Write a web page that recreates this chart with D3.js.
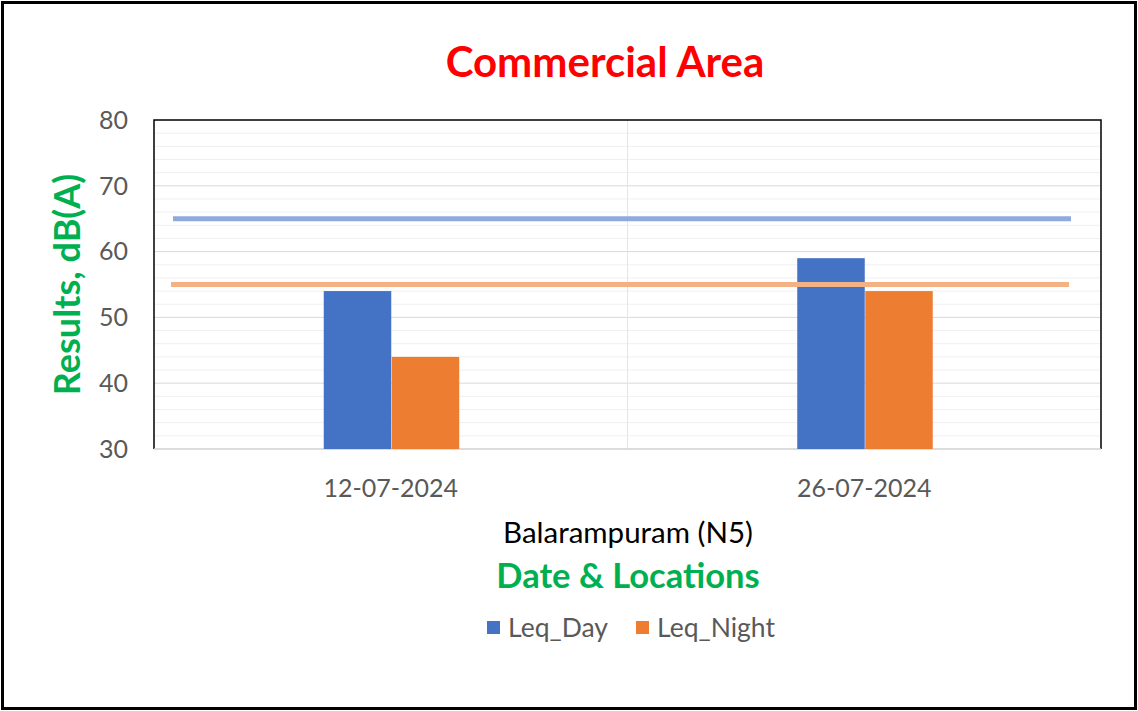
<!DOCTYPE html>
<html>
<head>
<meta charset="utf-8">
<script src="https://cdn.jsdelivr.net/npm/d3@7"></script>
<style>
  body { margin: 0; background: #fff; }
  svg { display: block; }
</style>
</head>
<body>
<script>
// data
var categories = ["12-07-2024", "26-07-2024"];
var leqDay = [54, 59];
var leqNight = [44, 54];
var limitDay = 65;
var limitNight = 55;
var seriesNames = ["Leq_Day", "Leq_Night"];
var yTicks = [30, 40, 50, 60, 70, 80];

var width = 1138, height = 711;
var plot = { left: 154, right: 1101, top: 120, bottom: 449 };
var colors = ["#4472C4", "#ED7D31"];
var lineColors = ["#8FAADC", "#F4B183"];
var font = "Lato, 'Open Sans', sans-serif";

var svg = d3.select("body").append("svg")
  .attr("width", width)
  .attr("height", height);

svg.append("rect")
  .attr("width", width).attr("height", height)
  .attr("fill", "#fff");

// outer frame
svg.append("rect")
  .attr("x", 2.5).attr("y", 2.5)
  .attr("width", width - 5).attr("height", height - 5)
  .attr("fill", "none")
  .attr("stroke", "#000")
  .attr("stroke-width", 3);

var x = d3.scaleBand()
  .domain(categories)
  .range([plot.left, plot.right]);

var xInner = d3.scaleBand()
  .domain(seriesNames)
  .range([0, 136])
  .padding(0);

var y = d3.scaleLinear()
  .domain([30, 80])
  .range([plot.bottom, plot.top]);

// minor gridlines
svg.append("g")
  .selectAll("line")
  .data(d3.range(32, 80, 2).filter(function (v) { return v % 10 !== 0; }))
  .enter().append("line")
  .attr("x1", plot.left).attr("x2", plot.right)
  .attr("y1", function (d) { return y(d); })
  .attr("y2", function (d) { return y(d); })
  .attr("stroke", "#f0f0f0")
  .attr("stroke-width", 1);

// major gridlines
svg.append("g")
  .selectAll("line")
  .data(yTicks.slice(1, -1))
  .enter().append("line")
  .attr("x1", plot.left).attr("x2", plot.right)
  .attr("y1", function (d) { return y(d); })
  .attr("y2", function (d) { return y(d); })
  .attr("stroke", "#d9d9d9")
  .attr("stroke-width", 1);

// vertical category divider
svg.append("line")
  .attr("x1", x(categories[1])).attr("x2", x(categories[1]))
  .attr("y1", plot.top).attr("y2", plot.bottom)
  .attr("stroke", "#e6e6e6");

// frame of plot: left, top, right black; bottom grey
svg.append("path")
  .attr("d", "M" + plot.left + "," + plot.bottom + "V" + plot.top + "H" + plot.right + "V" + plot.bottom)
  .attr("fill", "none")
  .attr("stroke", "#000")
  .attr("stroke-width", 1.5);
svg.append("line")
  .attr("x1", plot.left).attr("x2", plot.right)
  .attr("y1", plot.bottom).attr("y2", plot.bottom)
  .attr("stroke", "#d0d0d0")
  .attr("stroke-width", 1.5);

// bars
var rows = categories.map(function (c, i) {
  return { cat: c, values: [leqDay[i], leqNight[i]] };
});

var groups = svg.selectAll("g.cat")
  .data(rows)
  .enter().append("g")
  .attr("class", "cat")
  .attr("transform", function (d) {
    return "translate(" + (x(d.cat) + x.bandwidth() / 2 - 67) + ",0)";
  });

groups.selectAll("rect")
  .data(function (d) { return d.values.map(function (v, j) { return { key: seriesNames[j], value: v, j: j }; }); })
  .enter().append("rect")
  .attr("x", function (d) { return xInner(d.key); })
  .attr("width", xInner.bandwidth() - 0.5)
  .attr("y", function (d) { return y(d.value); })
  .attr("height", function (d) { return y(30) - y(d.value); })
  .attr("fill", function (d) { return colors[d.j]; });

// limit lines
var limits = [limitDay, limitNight];
svg.append("g")
  .selectAll("line")
  .data(limits)
  .enter().append("line")
  .attr("x1", function (d, i) { return plot.left + (i === 0 ? 19 : 17); })
  .attr("x2", function (d, i) { return plot.right - (i === 0 ? 30 : 32); })
  .attr("y1", function (d) { return y(d); })
  .attr("y2", function (d) { return y(d); })
  .attr("stroke", function (d, i) { return lineColors[i]; })
  .attr("stroke-width", 5);

// y axis labels
svg.append("g")
  .selectAll("text")
  .data(yTicks)
  .enter().append("text")
  .attr("x", 128)
  .attr("y", function (d) { return y(d); })
  .attr("dy", "0.35em")
  .attr("text-anchor", "end")
  .attr("font-family", font)
  .attr("font-size", 25)
  .attr("fill", "#595959")
  .text(function (d) { return d; });

// x axis labels
svg.append("g")
  .selectAll("text")
  .data(categories)
  .enter().append("text")
  .attr("x", function (d) { return x(d) + x.bandwidth() / 2; })
  .attr("y", 497)
  .attr("text-anchor", "middle")
  .attr("font-family", font)
  .attr("font-size", 25)
  .attr("fill", "#595959")
  .text(function (d) { return d; });

svg.append("text")
  .attr("x", 628)
  .attr("y", 543)
  .attr("text-anchor", "middle")
  .attr("font-family", font)
  .attr("font-size", 29.5)
  .attr("fill", "#000")
  .text("Balarampuram (N5)");

svg.append("text")
  .attr("x", 628)
  .attr("y", 588)
  .attr("text-anchor", "middle")
  .attr("font-family", font)
  .attr("font-size", 34.5)
  .attr("font-weight", "bold")
  .attr("fill", "#00B050")
  .text("Date & Locations");

// title
svg.append("text")
  .attr("x", 605)
  .attr("y", 77)
  .attr("text-anchor", "middle")
  .attr("font-family", font)
  .attr("font-size", 42)
  .attr("font-weight", "bold")
  .attr("fill", "#FF0000")
  .text("Commercial Area");

// y title
svg.append("text")
  .attr("transform", "translate(80," + ((plot.top + plot.bottom) / 2) + ") rotate(-90)")
  .attr("text-anchor", "middle")
  .attr("font-family", font)
  .attr("font-size", 36)
  .attr("font-weight", "bold")
  .attr("fill", "#00B050")
  .text("Results, dB(A)");

// legend
var legendX = [487, 636];
var legend = svg.append("g")
  .selectAll("g")
  .data(seriesNames)
  .enter().append("g")
  .attr("transform", function (d, i) { return "translate(" + legendX[i] + ",621)"; });

legend.append("rect")
  .attr("width", 13).attr("height", 13)
  .attr("fill", function (d, i) { return colors[i]; });

legend.append("text")
  .attr("x", 21)
  .attr("y", 7)
  .attr("dy", "0.35em")
  .attr("font-family", font)
  .attr("font-size", 26.5)
  .attr("fill", "#595959")
  .text(function (d) { return d; });
</script>
</body>
</html>
